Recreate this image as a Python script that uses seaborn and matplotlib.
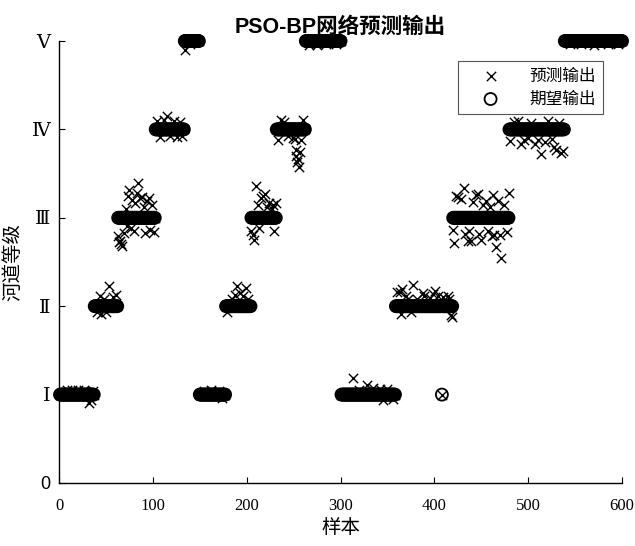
import numpy as np
import pandas as pd
import matplotlib
matplotlib.use("Agg")
import matplotlib.pyplot as plt
import seaborn as sns

# ---------------- data ----------------
samples = np.arange(1, 601)

# expected grade: run-length segments (first sample of each run, grade)
seg_start = [1, 38, 63, 103, 134, 150, 178, 205, 232, 263, 301, 359, 420, 480, 539]
seg_level = [1, 2, 3, 4, 5, 1, 2, 3, 4, 5, 1, 2, 3, 4, 5]
expected_exceptions = {408: 1}

# predicted output: equal to expected except these visible deviations
pred_overrides = {
    # I (1-37)
    8: 1.05, 14: 1.05, 20: 1.05, 27: 1.05, 32: 0.90, 34: 0.94, 36: 1.04,
    # II (38-62)
    40: 1.93, 44: 2.11, 45: 1.91, 48: 2.08, 50: 1.94, 53: 2.23, 57: 2.10, 61: 2.13,
    # III (63-102)
    63: 2.79, 64: 2.73, 65: 2.74, 66: 2.70, 67: 2.68, 69: 2.83, 71: 3.10, 72: 2.91,
    74: 3.25, 75: 3.31, 77: 2.88, 78: 3.20, 80: 2.85, 81: 3.17, 83: 3.28, 84: 3.39,
    86: 3.22, 88: 3.23, 90: 3.12, 92: 2.83, 94: 3.19, 96: 3.22, 97: 2.86, 99: 3.15,
    101: 2.84,
    # IV (103-133)
    104: 4.09, 108: 3.91, 112: 4.11, 115: 4.15, 118: 3.92, 122: 4.09, 126: 3.91,
    129: 4.08, 131: 3.92,
    # V (134-149)
    134: 4.90, 140: 4.97,
    # I (150-177)
    155: 1.04, 162: 1.05, 170: 1.04, 174: 0.96,
    # II (178-204)
    179: 1.94, 184: 2.08, 187: 2.13, 190: 2.23, 193: 2.15, 196: 2.11, 199: 2.21, 201: 2.08,
    # III (205-231)
    205: 2.85, 207: 2.80, 208: 2.75, 210: 3.36, 212: 3.15, 213: 2.88, 215: 3.22,
    217: 3.25, 219: 3.27, 222: 3.12, 224: 3.17, 227: 3.10, 228: 3.15, 229: 2.85, 231: 3.17,
    # IV (232-262)
    233: 3.88, 237: 4.11, 240: 4.08, 244: 3.92, 249: 3.90, 251: 3.89, 252: 3.77,
    253: 3.70, 254: 3.63, 255: 3.66, 256: 3.57, 257: 3.74, 258: 3.88, 260: 4.11,
    # V (263-300)
    266: 4.96, 275: 4.96, 285: 4.97, 295: 4.97,
    # I (301-358)
    313: 1.19, 320: 1.05, 328: 1.11, 335: 1.07, 342: 1.06, 345: 0.94, 350: 1.06, 356: 0.95,
    # II (359-419)
    360: 2.16, 363: 2.16, 364: 1.91, 366: 2.19, 370: 2.12, 372: 2.08, 375: 1.93,
    377: 2.24, 382: 2.08, 388: 2.15, 389: 2.12, 395: 2.09, 398: 2.14, 401: 2.17,
    404: 2.12, 409: 2.10, 414: 2.12, 416: 2.08, 418: 1.90, 419: 1.88,
    # III (420-479)
    420: 2.86, 421: 2.72, 423: 3.25, 425: 3.23, 428: 3.21, 432: 3.34, 433: 2.82,
    436: 2.74, 437: 2.85, 439: 2.74, 441: 3.18, 444: 3.26, 446: 3.27, 448: 2.82,
    450: 2.75, 452: 3.15, 455: 3.19, 457: 2.85, 459: 3.12, 461: 2.79, 462: 3.26,
    464: 2.81, 466: 2.67, 468: 3.19, 470: 2.80, 471: 2.54, 474: 3.14, 477: 2.84, 479: 3.28,
    # IV (480-538)
    481: 3.87, 485: 4.08, 489: 4.10, 492: 3.84, 495: 3.88, 500: 3.90, 503: 4.07,
    507: 3.84, 510: 3.88, 514: 3.72, 518: 3.86, 521: 4.10, 525: 3.89, 528: 3.80,
    530: 3.77, 533: 4.07, 535: 3.73, 537: 3.76,
    # V (539-600)
    545: 4.97, 556: 4.97, 570: 4.96, 585: 4.97, 596: 4.97,
}

x_ticks = [0, 100, 200, 300, 400, 500, 600]
y_ticks = [0, 1, 2, 3, 4, 5]
y_tick_labels = ["0", "Ⅰ", "Ⅱ", "Ⅲ", "Ⅳ", "Ⅴ"]

title_text = "PSO-BP网络预测输出"
x_label = "样本"
y_label = "河道等级"
pred_label = "预测输出"
exp_label = "期望输出"

# ---------------- build series ----------------
expected = np.zeros(len(samples))
for st, lv in zip(seg_start, seg_level):
    expected[samples >= st] = lv
for k, v in expected_exceptions.items():
    expected[k - 1] = v
predicted = expected.copy()
for k, v in pred_overrides.items():
    predicted[k - 1] = v

df = pd.DataFrame({"sample": samples, "expected": expected, "predicted": predicted})

# ---------------- plot ----------------
sns.set_style("ticks")
plt.rcParams["font.family"] = ["Liberation Serif", "Noto Sans CJK SC", "DejaVu Sans"]
plt.rcParams["axes.unicode_minus"] = False
plt.rcParams["text.color"] = "black"
plt.rcParams["axes.labelcolor"] = "black"
plt.rcParams["xtick.color"] = "black"
plt.rcParams["ytick.color"] = "black"

fig = plt.figure(figsize=(6.35, 5.46), dpi=100)
ax = fig.add_axes([0.093, 0.1154, 0.8866, 0.8095])

sns.scatterplot(data=df, x="sample", y="predicted", marker="x", color="black",
                s=45, linewidth=1.0, label=pred_label, ax=ax, clip_on=False, zorder=3)
sns.scatterplot(data=df, x="sample", y="expected", marker="o", facecolors="none",
                edgecolor="black", s=75, linewidth=1.3, label=exp_label, ax=ax,
                clip_on=False, zorder=4)

ax.set_xlim(0, 600)
ax.set_ylim(0, 5)
ax.set_xticks(x_ticks)
ax.set_yticks(y_ticks)
ax.set_yticklabels(y_tick_labels)
sns.despine(ax=ax)
for sp in ["left", "bottom"]:
    ax.spines[sp].set_linewidth(1.0)
    ax.spines[sp].set_color("black")

ax.tick_params(axis="both", direction="in", length=4, width=0.8, colors="black")
ax.tick_params(axis="x", pad=11, labelsize=12)
ax.tick_params(axis="y", pad=6, labelsize=14)
for lab in ax.get_xticklabels():
    lab.set_fontfamily(["Liberation Serif"])
for i, lab in enumerate(ax.get_yticklabels()):
    if i == 0:
        lab.set_fontfamily(["Liberation Sans"])
        lab.set_fontsize(13)
    else:
        lab.set_fontfamily(["Liberation Serif", "DejaVu Serif"])

ax.set_xlabel(x_label, fontsize=14, fontfamily=["Noto Sans CJK SC"], labelpad=2, color="black")
ax.set_ylabel(y_label, fontsize=14, fontfamily=["Noto Sans CJK SC"], labelpad=6, color="black")
ax.set_title(title_text, fontsize=15.5, fontweight="bold", color="black",
             fontfamily=["Liberation Sans", "Noto Sans CJK SC"], pad=6)

leg = ax.legend(loc="upper right", bbox_to_anchor=(0.966, 0.955), frameon=True,
                fancybox=False, edgecolor="#555555", framealpha=1,
                prop={"family": ["Noto Sans CJK SC"], "size": 12},
                handlelength=3.1, handletextpad=0.8, borderpad=0.4,
                labelspacing=0.35, borderaxespad=0)
leg.get_frame().set_linewidth(0.8)
for t in leg.get_texts():
    t.set_color("black")

fig.savefig("out.png", dpi=100)
